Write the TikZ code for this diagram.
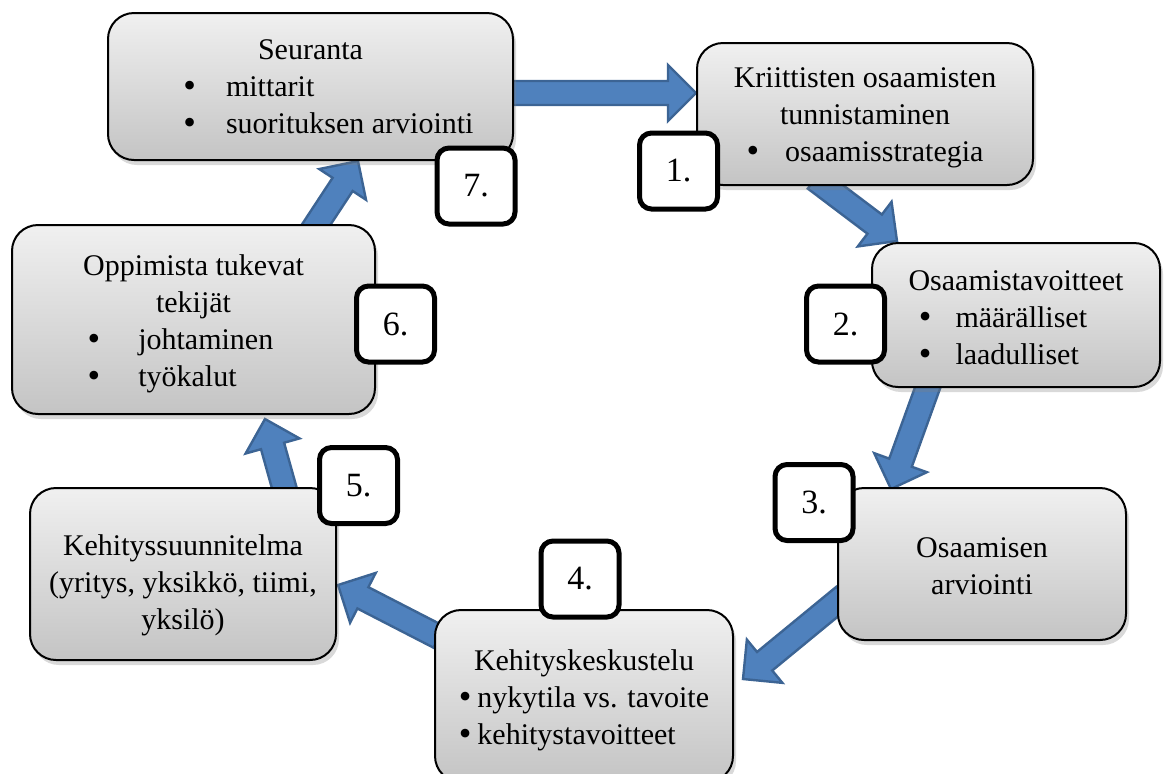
\documentclass[tikz,border=0pt]{standalone}
\usepackage{fontspec}
\setmainfont{Liberation Serif}
\usetikzlibrary{calc,shadows}
\pgfdeclarelayer{flowlayer}
\pgfsetlayers{flowlayer,main}
\definecolor{boxtop}{HTML}{F0F0F0}
\definecolor{boxbot}{HTML}{C4C4C4}
\definecolor{arrfill}{HTML}{4F81BD}
\definecolor{arrline}{HTML}{3C6494}
% bullet sign used in the lists
\newcommand\bul{{\fontsize{18}{18}\selectfont\raisebox{-0.5pt}{•}}}
% invisible rule that lowers a text block by about #1/2
\newcommand\lift[1]{\rule{0pt}{\dimexpr 10.3pt+#1\relax}}
% block arrow from a tail coordinate to a tip coordinate
\newcommand\blockarrow[2]{%
  \coordinate (hb) at ($(#2)!14pt!(#1)$);
  \draw[flow] ($(#1)!6pt!90:(#2)$) -- ($(hb)!6pt!-90:(#1)$) -- ($(hb)!14pt!-90:(#1)$)
    -- (#2) -- ($(hb)!14pt!90:(#1)$) -- ($(hb)!6pt!90:(#1)$) -- ($(#1)!6pt!-90:(#2)$) -- cycle;}
\begin{document}
\begin{tikzpicture}[x=0.5pt,y=-0.5pt,
  stage/.style={draw=black, line width=1pt, rounded corners=13pt,
    top color=boxtop, bottom color=boxbot, align=center, inner sep=0pt,
    font=\fontsize{15}{18.5}\selectfont,
    drop shadow={shadow xshift=1.5pt, shadow yshift=-2.5pt, opacity=0.3}},
  numbox/.style={draw=black, line width=2.5pt, rounded corners=6pt, fill=white,
    minimum width=39pt, minimum height=38pt, inner sep=0pt,
    font=\fontsize{17}{17}\selectfont},
  flow/.style={fill=arrfill, draw=arrline, line width=1.2pt, line join=miter}]
\useasboundingbox (0,0) rectangle (1166,773);
\clip (0,0) rectangle (1166,773);

% process stages
\node[stage, minimum width=202.5pt, minimum height=73.5pt] (b7) at (310.5,86.5)
  {\lift{5pt}Seuranta\\ \hspace*{18pt}\begin{tabular}[t]{@{}l@{\hspace{15pt}}l@{}}\bul&mittarit\\ \bul&suorituksen arviointi\end{tabular}};
\node[stage, minimum width=168pt, minimum height=71pt] (b1) at (865,114)
  {\lift{6pt}Kriittisten osaamisten\\tunnistaminen\\ \begin{tabular}[t]{@{}l@{\hspace{13pt}}l@{}}\bul&osaamisstrategia\end{tabular}};
\node[stage, minimum width=144pt, minimum height=72pt] (b2) at (1016,315)
  {\lift{8pt}Osaamistavoitteet\\ \hspace*{-13pt}\begin{tabular}[t]{@{}l@{\hspace{12pt}}l@{}}\bul&määrälliset\\ \bul&laadulliset\end{tabular}};
\node[stage, minimum width=144pt, minimum height=76pt] (b3) at (982,564)
  {\lift{2pt}Osaamisen\\arviointi};
\node[stage, minimum width=149pt, minimum height=86pt] (b4) at (584,696)
  {\lift{7pt}Kehityskeskustelu\\ \begin{tabular}[t]{@{}l@{\hspace{3pt}}l@{}}\bul&nykytila vs. tavoite\\ \bul&kehitystavoitteet\end{tabular}};
\node[stage, minimum width=153pt, minimum height=86pt] (b5) at (183,574)
  {\lift{11pt}Kehityssuunnitelma\\(yritys, yksikkö, tiimi,\\yksilö)};
\node[stage, minimum width=181.5pt, minimum height=94.5pt] (b6) at (193.5,319.5)
  {\lift{7pt}Oppimista tukevat\\tekijät\\ \hspace*{-13pt}\begin{tabular}[t]{@{}l@{\hspace{19pt}}l@{}}\bul&johtaminen\\ \bul&työkalut\end{tabular}};

% step numbers
\node[numbox] (n1) at (678.5,171) {1.};
\node[numbox] (n2) at (845.5,324) {2.};
\node[numbox] (n3) at (814,502.5) {3.};
\node[numbox] (n4) at (580,579) {4.};
\node[numbox] (n5) at (358.5,485.5) {5.};
\node[numbox] (n6) at (395.5,324) {6.};
\node[numbox] (n7) at (476,186) {7.};

% flow arrows between the stages, behind the boxes
\begin{pgfonlayer}{flowlayer}
\coordinate (t71) at ($(b7.east)+(-8,6.5)$);   \coordinate (h71) at ($(b1.west)+(0,-21)$);
\blockarrow{t71}{h71}
\coordinate (t12) at ($(b1.south)+(-50,-7)$);  \coordinate (h12) at ($(b2.north)+(-119,-1)$);
\blockarrow{t12}{h12}
\coordinate (t23) at ($(b2.south)+(-86,-7)$);  \coordinate (h23) at ($(b3.north)+(-91,2)$);
\blockarrow{t23}{h23}
\coordinate (t34) at ($(b3.west)+(7,32)$);     \coordinate (h34) at ($(b4.east)+(9,-17)$);
\blockarrow{t34}{h34}
\coordinate (t45) at ($(b4.west)+(5,-59)$);    \coordinate (h45) at ($(b5.east)+(1,11)$);
\blockarrow{t45}{h45}
\coordinate (t56) at ($(b5.north)+(103,7)$);   \coordinate (h56) at ($(b6.south)+(71.5,4)$);
\blockarrow{t56}{h56}
\coordinate (t67) at ($(b6.north)+(118.5,7)$); \coordinate (h67) at ($(b7.south)+(47.5,0)$);
\blockarrow{t67}{h67}
\end{pgfonlayer}
\end{tikzpicture}
\end{document}
